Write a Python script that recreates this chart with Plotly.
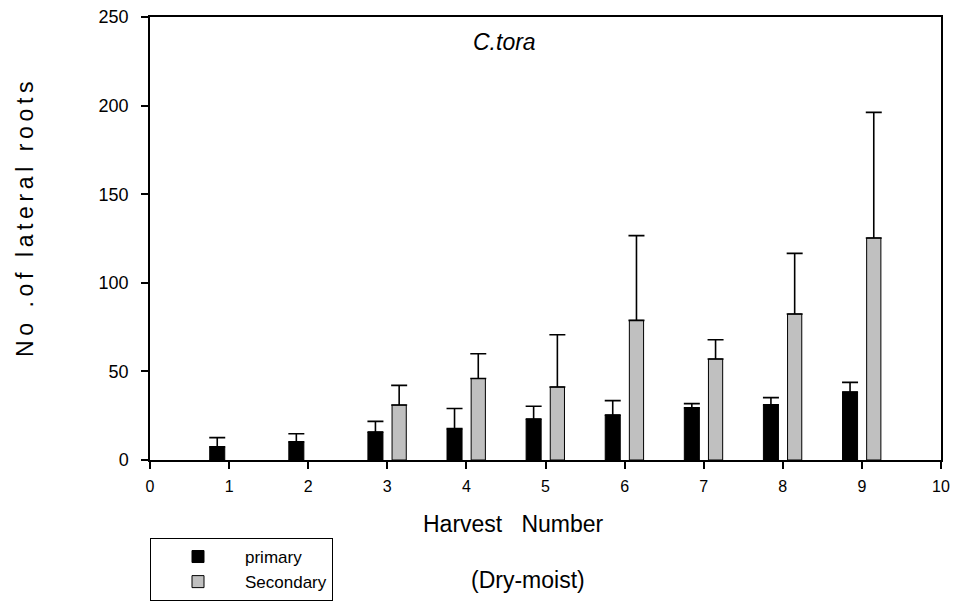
import plotly.graph_objects as go

harvest = [1, 2, 3, 4, 5, 6, 7, 8, 9]
primary = [7.5, 10.3, 15.8, 17.7, 23.1, 25.4, 29.5, 31.2, 38.4]
primary_err = [5.1, 4.5, 6.0, 11.4, 7.2, 8.1, 2.3, 4.0, 5.4]
secondary = [None, None, 31.0, 46.0, 41.2, 78.8, 57.0, 82.4, 125.3]
secondary_err = [None, None, 11.1, 14.0, 29.5, 47.8, 10.9, 34.2, 70.9]
x_ticks = [0, 1, 2, 3, 4, 5, 6, 7, 8, 9, 10]
y_ticks = [0, 50, 100, 150, 200, 250]

FONT = "Liberation Sans, Arial, sans-serif"

fig = go.Figure()
fig.add_trace(go.Bar(
    x=harvest, y=primary, name="primary",
    width=0.19, offset=-0.245,
    marker=dict(color="black", line=dict(color="black", width=1)),
    error_y=dict(type="data", symmetric=False, array=primary_err,
                 arrayminus=[0] * len(primary_err),
                 color="black", thickness=1.6, width=8),
))
fig.add_trace(go.Bar(
    x=harvest, y=secondary, name="Secondary",
    width=0.18, offset=0.06,
    marker=dict(color="#c0c0c0", line=dict(color="black", width=1)),
    error_y=dict(type="data", symmetric=False, array=secondary_err,
                 arrayminus=[0 if v is not None else None for v in secondary_err],
                 color="black", thickness=1.6, width=8),
))

thin = "\u2009"
ytitle = thin.join(list("No .of lateral roots"))

# page body has an 8px margin, so the figure is drawn at (8, 8)
fig.update_layout(
    width=955, height=598,
    margin=dict(l=142, r=22, t=9, b=146, autoexpand=False),
    paper_bgcolor="white", plot_bgcolor="white",
    barmode="overlay",
    font=dict(family=FONT, color="black", size=16),
    showlegend=True,
    legend=dict(
        x=0, y=-0.176, xanchor="left", yanchor="top",
        bordercolor="black", borderwidth=1,
        font=dict(size=17, family=FONT),
        tracegroupgap=0, itemwidth=84,
        entrywidth=200,
    ),
    xaxis=dict(
        range=[0, 10], tickvals=x_ticks, ticktext=[str(v) for v in x_ticks],
        showline=True, linecolor="black", linewidth=1.5, mirror=True,
        ticks="outside", ticklen=7, tickwidth=1.5, tickcolor="black",
        showgrid=False, zeroline=False,
        tickfont=dict(size=16, family=FONT),
        ticklabelstandoff=4, ticklabeloverflow="allow",
        automargin=False,
    ),
    yaxis=dict(
        range=[0, 250], tickvals=y_ticks, ticktext=[str(v) for v in y_ticks],
        showline=True, linecolor="black", linewidth=1.5, mirror=True,
        ticks="outside", ticklen=7, tickwidth=1.5, tickcolor="black",
        showgrid=False, zeroline=False,
        tickfont=dict(size=18, family=FONT),
        ticklabelstandoff=9, ticklabeloverflow="allow",
        automargin=False,
    ),
    annotations=[
        dict(text="<i>C.tora</i>", x=(504 - 150) / 791, y=0.9436, xref="paper", yref="paper",
             showarrow=False, font=dict(size=23, family=FONT), xanchor="center", yanchor="middle"),
        dict(text="Harvest   Number", x=(513 - 150) / 791, y=(460 - 524) / 443,
             xref="paper", yref="paper", showarrow=False,
             font=dict(size=23, family=FONT), xanchor="center", yanchor="middle"),
        dict(text="(Dry-moist)", x=(528 - 150) / 791, y=(460 - 580) / 443,
             xref="paper", yref="paper", showarrow=False,
             font=dict(size=23, family=FONT), xanchor="center", yanchor="middle"),
        dict(text=ytitle, x=(25 - 150) / 791, y=(460 - 220) / 443,
             xref="paper", yref="paper", showarrow=False, textangle=-90,
             font=dict(size=23, family=FONT), xanchor="center", yanchor="middle"),
    ],
)

fig.write_html("out.html")
